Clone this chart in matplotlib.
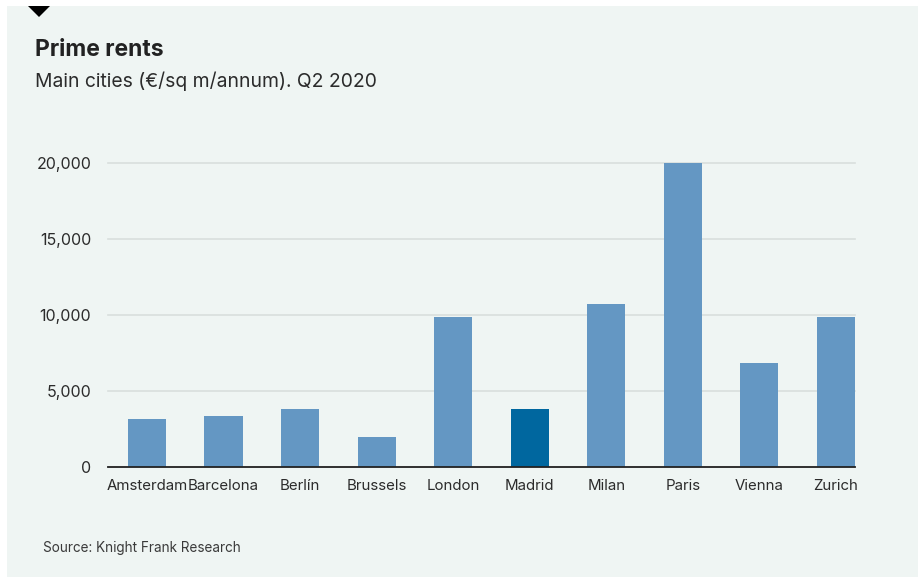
import matplotlib.pyplot as plt
from matplotlib.patches import Rectangle, Polygon
from matplotlib.ticker import FuncFormatter

plt.rcParams['font.family'] = ['Inter', 'DejaVu Sans']

# Prime rents, Q2 2020 (€/sq m/annum)
cities = ['Amsterdam', 'Barcelona', 'Berlín', 'Brussels', 'London',
          'Madrid', 'Milan', 'Paris', 'Vienna', 'Zurich']
rents = [3150, 3350, 3800, 1950, 9850, 3800, 10700, 20000, 6850, 9850]
highlight = 'Madrid'

W, H = 921, 578
fig = plt.figure(figsize=(W / 100, H / 100), dpi=100)
fig.patch.set_facecolor('white')

# light panel behind everything
bg = '#eff5f3'
fig.patches.append(Rectangle((7 / W, 1 / H), 911 / W, 571 / H, transform=fig.transFigure,
                             facecolor=bg, edgecolor='none', zorder=-2))
# small black marker on top
fig.patches.append(Polygon([(28 / W, 1 - 6 / H), (50 / W, 1 - 6 / H), (39 / W, 1 - 17 / H)],
                           closed=True, transform=fig.transFigure,
                           facecolor='black', edgecolor='none', zorder=-1))

ax = fig.add_axes([108 / W, 111.3 / H, 747 / W, 304 / H])
ax.set_facecolor('none')
ax.set_zorder(2)

colors = ['#00679f' if c == highlight else '#6497c3' for c in cities]
ax.bar(range(len(cities)), rents, width=0.5, color=colors, zorder=3)

ax.set_xlim(-0.51, 9.25)
ax.set_ylim(0, 20000)
ax.set_yticks([0, 5000, 10000, 15000, 20000])
ax.yaxis.set_major_formatter(FuncFormatter(lambda v, p: f'{int(v):,}'))
ax.set_xticks(range(len(cities)))
ax.set_xticklabels(cities)

ax.grid(axis='y', color='#d9dfdd', linewidth=1.2, zorder=0)
ax.set_axisbelow(True)
for gl in ax.get_ygridlines():
    gl.set_clip_on(False)

for s in ['top', 'right', 'left']:
    ax.spines[s].set_visible(False)
ax.spines['bottom'].set_color('#222222')
ax.spines['bottom'].set_linewidth(1.3)
ax.spines['bottom'].set_zorder(4)

ax.tick_params(axis='both', length=0, labelcolor='#2b2b2b')
ax.tick_params(axis='y', pad=12, labelsize=11.5)
ax.tick_params(axis='x', pad=9, labelsize=10.8)

fig.text(35 / W, 1 - 50 / H, 'Prime rents', fontsize=16.5, fontweight='bold',
         color='#222222', va='center', ha='left')
fig.text(35 / W, 1 - 81 / H, 'Main cities (€/sq m/annum). Q2 2020', fontsize=13.9,
         color='#2b2b2b', va='center', ha='left')
fig.text(43 / W, 1 - 548 / H, 'Source: Knight Frank Research', fontsize=9.75,
         color='#3a3a3a', va='center', ha='left')

fig.savefig('out.png', dpi=100)
